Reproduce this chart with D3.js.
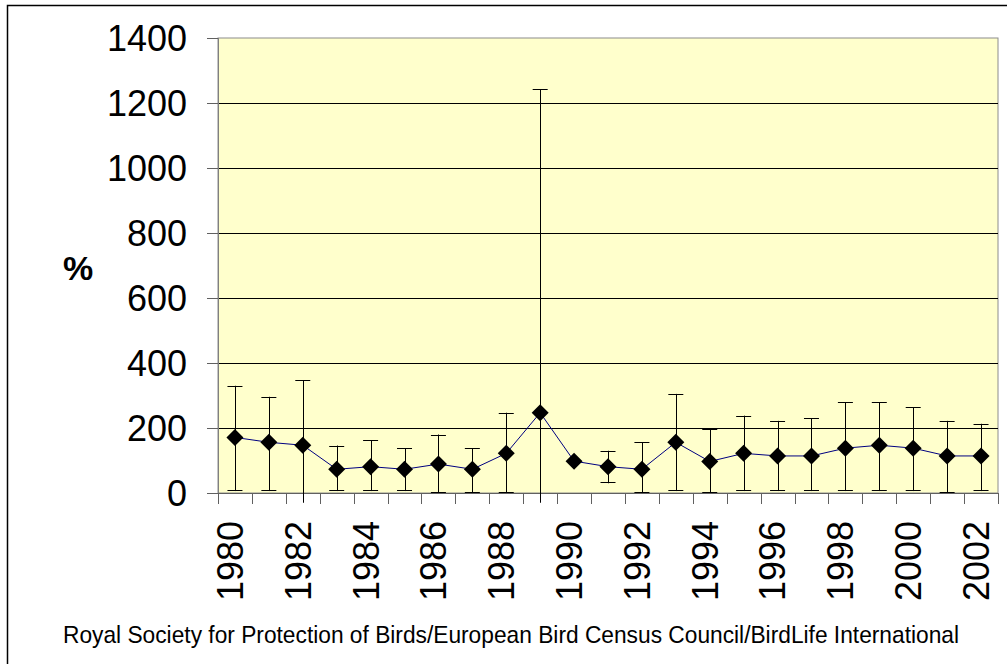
<!DOCTYPE html>
<head>
  <meta charset="utf-8">
  <script src="https://d3js.org/d3.v7.min.js"></script>
  <style>
    body { margin: 0; background: #fff; }
    .tick text { fill: #000; }
    .y path { display: none; }
    .x path, .x line { display: none; }
  </style>
</head>
<body>
<script>
  // data
  var years = [1980,1981,1982,1983,1984,1985,1986,1987,1988,1989,1990,1991,
               1992,1993,1994,1995,1996,1997,1998,1999,2000,2001,2002];
  var values = [171,156,147,73,81,73,89,73,122,247,98,81,
                73,156,97,122,114,114,138,147,138,114,114];
  var upper = [330,296,347,146,163,138,180,138,247,1243,null,130,
               156,305,197,238,222,230,280,280,264,222,213];
  var lower = [6,6,-30,6,6,6,0,0,0,-30,null,30,
               0,6,0,6,6,6,6,6,6,0,6];
  var yTicks = [0,200,400,600,800,1000,1200,1400];
  var source = "Royal Society for Protection of Birds/European Bird Census Council/BirdLife International";

  var W = 1007, H = 664;
  var plot = {left: 218, right: 998, top: 38, bottom: 493};
  var font = "'Liberation Sans', Arial, sans-serif";

  var svg = d3.select("body").append("svg")
      .attr("width", W)
      .attr("height", H);

  // outer frame (runs off right / bottom edge)
  svg.append("rect")
      .attr("x", 7.5).attr("y", 5.5)
      .attr("width", 1010).attr("height", 670)
      .attr("fill", "#fff")
      .attr("stroke", "#000")
      .attr("stroke-width", 1.5);

  var x = d3.scaleBand()
      .domain(years)
      .range([plot.left, plot.right])
      .paddingInner(0).paddingOuter(0);

  var y = d3.scaleLinear()
      .domain([0, 1400])
      .range([plot.bottom, plot.top]);

  // plot background
  svg.append("rect")
      .attr("x", plot.left).attr("y", plot.top)
      .attr("width", plot.right - plot.left)
      .attr("height", plot.bottom - plot.top)
      .attr("fill", "#FFFFCC")
      .attr("stroke", "#8c8c8c")
      .attr("stroke-width", 1);

  // gridlines
  svg.append("g").selectAll("line")
      .data(yTicks.filter(function(d) { return d > 0 && d < 1400; }))
    .enter().append("line")
      .attr("x1", plot.left).attr("x2", plot.right)
      .attr("y1", function(d) { return Math.round(y(d)) + 0.5; })
      .attr("y2", function(d) { return Math.round(y(d)) + 0.5; })
      .attr("stroke", "#000")
      .attr("stroke-width", 1);

  // y axis
  var yAxis = d3.axisLeft(y)
      .tickValues(yTicks)
      .tickFormat(d3.format("d"))
      .tickSize(11)
      .tickPadding(20);

  svg.append("g")
      .attr("class", "y axis")
      .attr("transform", "translate(" + plot.left + ",0)")
      .call(yAxis)
      .call(function(g) {
        g.selectAll(".tick line").attr("stroke", "#606060");
        g.selectAll(".tick text")
          .style("font-family", font)
          .style("font-size", "36px")
          .attr("dy", "0.34em");
      });

  // left axis line
  svg.append("line")
      .attr("x1", plot.left + 0.5).attr("x2", plot.left + 0.5)
      .attr("y1", plot.top).attr("y2", plot.bottom)
      .attr("stroke", "#808080");

  // bottom axis line
  svg.append("line")
      .attr("x1", plot.left - 11).attr("x2", plot.right)
      .attr("y1", plot.bottom + 0.5).attr("y2", plot.bottom + 0.5)
      .attr("stroke", "#606060");

  // category boundary ticks
  var bounds = years.map(function(d) { return x(d); }).concat([plot.right]);
  svg.append("g").selectAll("line")
      .data(bounds)
    .enter().append("line")
      .attr("x1", function(d) { return Math.round(d) + 0.5; })
      .attr("x2", function(d) { return Math.round(d) + 0.5; })
      .attr("y1", plot.bottom)
      .attr("y2", plot.bottom + 11)
      .attr("stroke", "#606060");

  // x labels, every other year, rotated
  var xAxis = d3.axisBottom(x)
      .tickValues(years.filter(function(d) { return d % 2 === 0; }))
      .tickSize(0)
      .tickPadding(0);

  svg.append("g")
      .attr("class", "x axis")
      .attr("transform", "translate(0," + plot.bottom + ")")
      .call(xAxis)
      .call(function(g) {
        g.selectAll(".tick text")
          .style("font-family", font)
          .style("font-size", "36px")
          .attr("transform", "rotate(-90)")
          .attr("text-anchor", "end")
          .attr("x", -28)
          .attr("y", 0)
          .attr("dy", "0.22em");
      });

  // y title
  svg.append("text")
      .attr("x", 78).attr("y", 280)
      .attr("text-anchor", "middle")
      .style("font-family", font)
      .style("font-size", "34px")
      .style("font-weight", "bold")
      .text("%");

  var pts = years.map(function(d, i) {
    return {year: d, v: values[i], hi: upper[i], lo: lower[i]};
  });
  var cx = function(d) { return x(d.year) + x.bandwidth() / 2; };

  // error bars
  var eb = svg.append("g").selectAll("g")
      .data(pts.filter(function(d) { return d.hi != null; }))
    .enter().append("g");

  eb.append("line")
      .attr("x1", function(d) { return Math.round(cx(d)) + 0.5; })
      .attr("x2", function(d) { return Math.round(cx(d)) + 0.5; })
      .attr("y1", function(d) { return y(d.hi); })
      .attr("y2", function(d) { return y(d.lo); })
      .attr("stroke", "#000");

  eb.append("line")
      .attr("x1", function(d) { return cx(d) - 7.5; })
      .attr("x2", function(d) { return cx(d) + 7.5; })
      .attr("y1", function(d) { return Math.round(y(d.hi)) + 0.5; })
      .attr("y2", function(d) { return Math.round(y(d.hi)) + 0.5; })
      .attr("stroke", "#000");

  eb.filter(function(d) { return d.lo >= 0; })
    .append("line")
      .attr("x1", function(d) { return cx(d) - 7.5; })
      .attr("x2", function(d) { return cx(d) + 7.5; })
      .attr("y1", function(d) { return Math.round(y(d.lo)) - 0.5; })
      .attr("y2", function(d) { return Math.round(y(d.lo)) - 0.5; })
      .attr("stroke", "#000");

  // series line
  var line = d3.line()
      .x(cx)
      .y(function(d) { return y(d.v); });

  svg.append("path")
      .datum(pts)
      .attr("d", line)
      .attr("fill", "none")
      .attr("stroke", "#000080")
      .attr("stroke-width", 1);

  // diamond markers
  var r = 8.5;
  svg.append("g").selectAll("path")
      .data(pts)
    .enter().append("path")
      .attr("transform", function(d) { return "translate(" + cx(d) + "," + y(d.v) + ")"; })
      .attr("d", "M0," + (-r) + "L" + r + ",0L0," + r + "L" + (-r) + ",0Z")
      .attr("fill", "#000");

  // source note (narrow, tall lettering)
  svg.append("text")
      .attr("transform", "translate(63,643) scale(1,1.2)")
      .attr("textLength", 896)
      .attr("lengthAdjust", "spacingAndGlyphs")
      .style("font-family", font)
      .style("font-size", "20.5px")
      .text(source);
</script>
</body>
